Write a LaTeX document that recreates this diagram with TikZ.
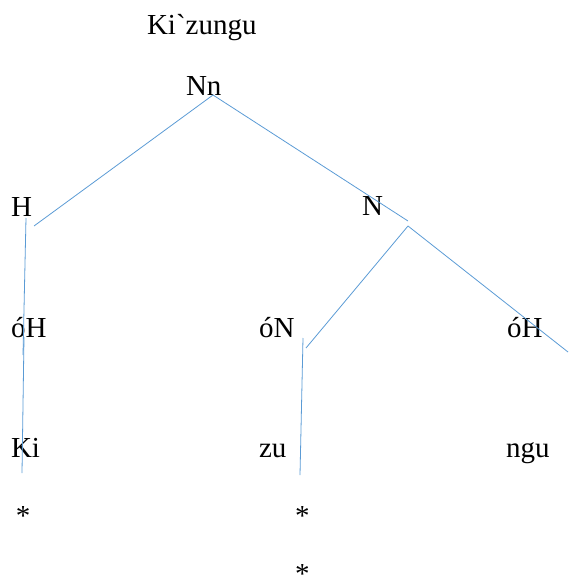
\documentclass[tikz,border=0pt]{standalone}
\usepackage{fontspec}
\setmainfont{Liberation Serif}
\newfontfamily\plainserif{Liberation Serif}
\definecolor{lineblue}{HTML}{5B9BD5}
\begin{document}
\begin{tikzpicture}[x=1pt,y=-1pt,
  lbl/.style={anchor=base west,inner sep=0pt,outer sep=0pt,font=\plainserif\fontsize{29}{34}\selectfont},
  link/.style={draw=lineblue,line width=0.8pt}]
\useasboundingbox (0,0) rectangle (568,577);
% texts
\node[lbl] (word) at (147,35) {Ki`zungu};
\node[lbl] (Nn) at (186,96) {Nn};
\node[lbl] (H) at (11,216) {H};
\node[lbl] (N) at (362,215) {N};
\node[lbl] (oH1) at (11,337) {óH};
\node[lbl] (oN) at (259,337) {óN};
\node[lbl] (oH2) at (507,337) {óH};
\node[lbl] (Ki) at (11,457) {Ki};
\node[lbl] (zu) at (259,457) {zu};
\node[lbl] (ngu) at (506,457) {ngu};
\node[lbl] (s1) at (16,525) {*};
\node[lbl] (s2) at (295,525) {*};
\node[lbl] (s3) at (295,583) {*};
% connector end points
\coordinate (nnfoot) at (213,95);
\coordinate (hhead) at (34,226);
\coordinate (nhead) at (408,221);
\coordinate (nfoot) at (408,226);
\coordinate (onhead) at (306,348);
\coordinate (ohhead) at (568,352);
\coordinate (hfoot) at (26,218);
\coordinate (oh1a) at (23,355);
\coordinate (oh1b) at (24,337);
\coordinate (kihead) at (22,473);
\coordinate (onfoot) at (303,338);
\coordinate (zufoot) at (300,475);
% connectors
\draw[link] (nnfoot) -- (hhead);
\draw[link] (nnfoot) -- (nhead);
\draw[link] (nfoot) -- (onhead);
\draw[link] (nfoot) -- (ohhead);
\draw[link] (hfoot) -- (oh1a);
\draw[link] (oh1b) -- (kihead);
\draw[link] (onfoot) -- (zufoot);
\end{tikzpicture}
\end{document}
